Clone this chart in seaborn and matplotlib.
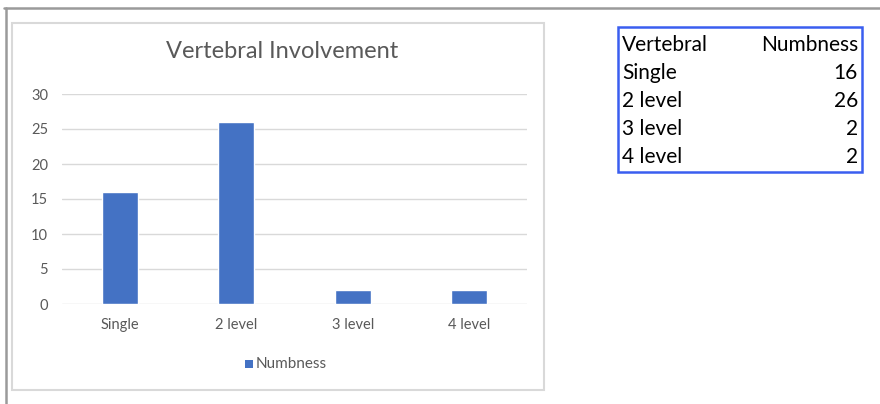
import matplotlib
matplotlib.use("Agg")
import matplotlib.pyplot as plt
from matplotlib.patches import Rectangle
from matplotlib.lines import Line2D
import seaborn as sns
import pandas as pd

categories = ["Single", "2 level", "3 level", "4 level"]
numbness = [16, 26, 2, 2]
y_ticks = [0, 5, 10, 15, 20, 25, 30]
series_name = "Numbness"
title = "Vertebral Involvement"
table_header = ["Vertebral", "Numbness"]

BAR_BLUE = "#4472C4"
GRID = "#d9d9d9"
TEXT_GRAY = "#595959"

sns.set_theme(style="white")
plt.rcParams["font.family"] = ["Lato", "DejaVu Sans"]

df = pd.DataFrame({"Vertebral": categories, "Numbness": numbness, "series": series_name})

W, H = 880, 404
fig = plt.figure(figsize=(W / 100, H / 100), dpi=100)
fig.patch.set_facecolor("white")


def fx(px):
    return px / W


def fy(py):
    return 1 - py / H


# outer page frame (top and left edges)
fig.add_artist(Line2D([fx(4), fx(880)], [fy(8), fy(8)], color="#9a9a9a", lw=1.8))
fig.add_artist(Line2D([fx(6), fx(6)], [fy(8), fy(404)], color="#9a9a9a", lw=1.8))

# chart area border
fig.add_artist(Rectangle((fx(12), fy(390)), fx(544) - fx(12), fy(23) - fy(390),
                         fill=False, edgecolor=GRID, lw=1.5))

ax = fig.add_axes([fx(62), fy(304), fx(527) - fx(62), fy(94) - fy(304)])
sns.barplot(data=df, x="Vertebral", y="Numbness", hue="series",
            palette=[BAR_BLUE], width=0.31, saturation=1, ax=ax, legend=False)
ax.set_ylim(0, 30)
ax.set_yticks(y_ticks)
ax.set_xlim(-0.5, len(categories) - 0.5)
for t in y_ticks:
    ax.axhline(t, color=GRID, lw=1.0, zorder=0)
ax.set_axisbelow(True)
for s in ax.spines.values():
    s.set_visible(False)
ax.set_xlabel("")
ax.set_ylabel("")
ax.tick_params(axis="both", length=0, labelsize=10.5, labelcolor=TEXT_GRAY)
ax.tick_params(axis="y", pad=10)
ax.tick_params(axis="x", pad=10)
ax.set_facecolor("none")

fig.text(fx(282), fy(52), title, ha="center", va="center", fontsize=17, color=TEXT_GRAY)

# legend
fig.add_artist(Rectangle((fx(245), fy(368)), fx(8), fy(360) - fy(368),
                         facecolor=BAR_BLUE, edgecolor="none"))
fig.text(fx(256), fy(364), series_name, ha="left", va="center", fontsize=11, color=TEXT_GRAY)

# data table
fig.add_artist(Rectangle((fx(618), fy(172)), fx(862) - fx(618), fy(27) - fy(172),
                         fill=False, edgecolor="#3a5ef0", lw=1.8))
rows_y = [45, 73, 101, 129, 157]
fig.text(fx(622), fy(rows_y[0]), table_header[0], ha="left", va="center", fontsize=15, color="black")
fig.text(fx(858), fy(rows_y[0]), table_header[1], ha="right", va="center", fontsize=15, color="black")
for cat, val, yy in zip(categories, numbness, rows_y[1:]):
    fig.text(fx(622), fy(yy), cat, ha="left", va="center", fontsize=15, color="black")
    fig.text(fx(858), fy(yy), str(val), ha="right", va="center", fontsize=15, color="black")

fig.savefig("out.png", dpi=100, facecolor="white")
